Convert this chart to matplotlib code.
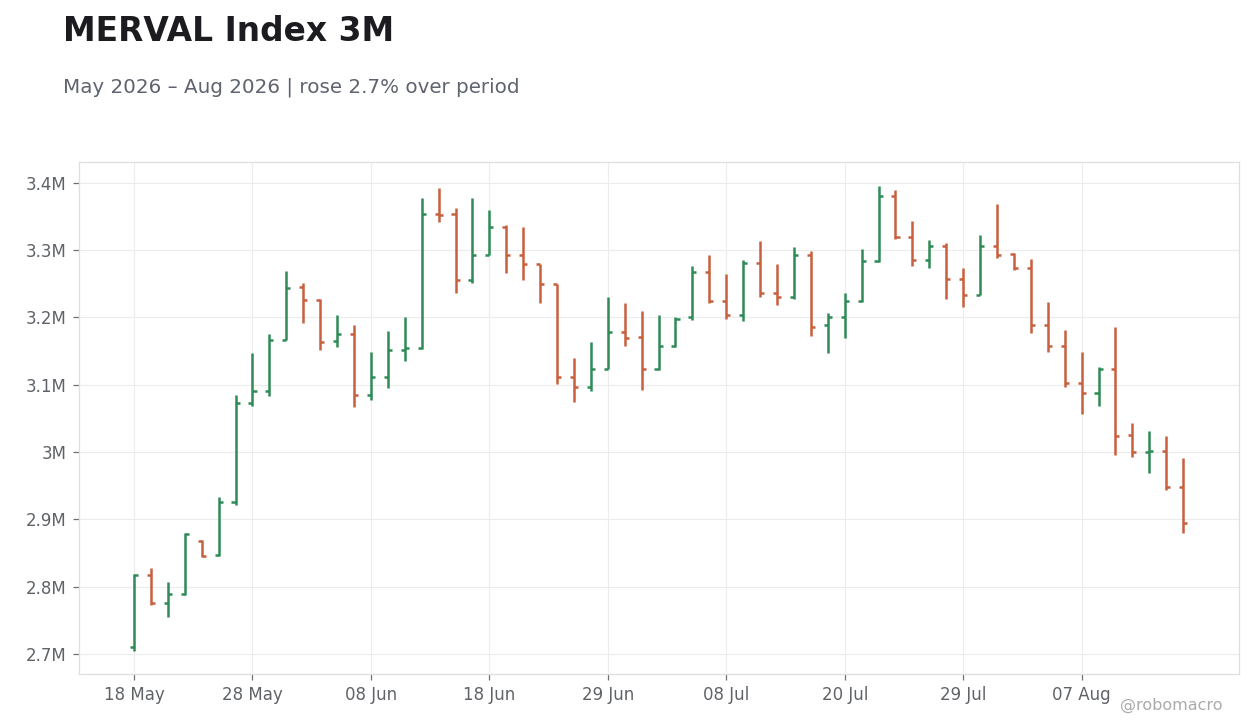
import numpy as np
import pandas as pd

import matplotlib
matplotlib.use("Agg")
import matplotlib.pyplot as plt
from matplotlib.ticker import FuncFormatter

plt.rcParams["font.family"] = ["DejaVu Sans"]


# trading days (Argentine market holidays removed)
HOLIDAYS = ["2026-05-25", "2026-06-15", "2026-07-09", "2026-08-17"]
DATES = pd.bdate_range("2026-05-18", "2026-08-18")
DATES = DATES[~DATES.isin(pd.to_datetime(HOLIDAYS))]

# OHLC values, millions
OPEN = [2.710, 2.817, 2.775, 2.789, 2.868, 2.847, 2.926, 3.073, 3.090, 3.167,
        3.245, 3.226, 3.165, 3.175, 3.085, 3.112, 3.151, 3.154, 3.354, 3.353,
        3.255, 3.292, 3.334, 3.292, 3.279, 3.249, 3.111, 3.096, 3.124, 3.178,
        3.171, 3.123, 3.157, 3.200, 3.268, 3.225, 3.203, 3.281, 3.236, 3.230,
        3.293, 3.189, 3.200, 3.224, 3.284, 3.380, 3.320, 3.285, 3.306, 3.257,
        3.234, 3.306, 3.294, 3.274, 3.189, 3.157, 3.102, 3.087, 3.123, 3.025,
        3.000, 3.002, 2.948]
HIGH = [2.818, 2.828, 2.806, 2.880, 2.869, 2.933, 3.085, 3.147, 3.176, 3.269,
        3.251, 3.227, 3.204, 3.188, 3.148, 3.180, 3.201, 3.377, 3.392, 3.362,
        3.378, 3.359, 3.338, 3.335, 3.280, 3.250, 3.139, 3.164, 3.230, 3.221,
        3.210, 3.203, 3.201, 3.276, 3.292, 3.265, 3.286, 3.313, 3.280, 3.305,
        3.298, 3.207, 3.237, 3.301, 3.396, 3.390, 3.344, 3.315, 3.311, 3.274,
        3.322, 3.368, 3.295, 3.287, 3.223, 3.182, 3.149, 3.127, 3.186, 3.043,
        3.031, 3.023, 2.991]
LOW = [2.704, 2.772, 2.755, 2.788, 2.844, 2.846, 2.921, 3.068, 3.083, 3.167,
       3.191, 3.151, 3.156, 3.067, 3.077, 3.095, 3.135, 3.153, 3.342, 3.236,
       3.251, 3.292, 3.266, 3.255, 3.221, 3.101, 3.074, 3.090, 3.124, 3.157,
       3.092, 3.122, 3.156, 3.196, 3.221, 3.197, 3.194, 3.230, 3.218, 3.228,
       3.172, 3.147, 3.169, 3.223, 3.282, 3.317, 3.276, 3.273, 3.228, 3.215,
       3.233, 3.288, 3.271, 3.177, 3.148, 3.097, 3.057, 3.068, 2.996, 2.993,
       2.968, 2.944, 2.880]
CLOSE = [2.817, 2.775, 2.789, 2.878, 2.846, 2.926, 3.073, 3.090, 3.167, 3.243,
         3.226, 3.164, 3.175, 3.085, 3.112, 3.151, 3.154, 3.353, 3.352, 3.255,
         3.292, 3.334, 3.292, 3.279, 3.249, 3.111, 3.096, 3.124, 3.178, 3.169,
         3.123, 3.157, 3.197, 3.267, 3.225, 3.203, 3.281, 3.236, 3.230, 3.293,
         3.186, 3.200, 3.224, 3.284, 3.380, 3.320, 3.285, 3.306, 3.257, 3.234,
         3.306, 3.292, 3.274, 3.189, 3.157, 3.102, 3.087, 3.123, 3.023, 3.000,
         3.002, 2.948, 2.894]

UP_COLOR = "#2e8b57"
DOWN_COLOR = "#c8603f"
TICK_EVERY = 7


def plot_ohlc():
    o = np.array(OPEN)
    h = np.array(HIGH)
    l = np.array(LOW)
    c = np.array(CLOSE)
    x = np.arange(len(o))
    colors = np.where(c >= o, UP_COLOR, DOWN_COLOR)

    fig = plt.figure(figsize=(12.6, 7.28), dpi=100)
    ax = fig.add_axes([0.0627, 0.0742, 0.9206, 0.7033])

    w = 0.24
    ax.vlines(x, l, h, colors=colors, linewidth=1.8, zorder=3)
    ax.hlines(o, x - w, x, colors=colors, linewidth=1.8, zorder=3)
    ax.hlines(c, x, x + w, colors=colors, linewidth=1.8, zorder=3)

    ax.set_xlim(-3.25, 65.3)
    ax.set_ylim(2.670, 3.431)

    tick_pos = x[::TICK_EVERY]
    ax.set_xticks(tick_pos)
    ax.set_xticklabels([d.strftime("%d %b") for d in DATES[: len(o)][::TICK_EVERY]])
    ax.set_yticks(np.arange(2.7, 3.45, 0.1))
    ax.yaxis.set_major_formatter(FuncFormatter(lambda v, _: f"{round(v, 1):g}M"))

    ax.grid(True, color="#ececec", linewidth=0.8, zorder=0)
    ax.set_axisbelow(True)
    for spine in ax.spines.values():
        spine.set_color("#dedede")
        spine.set_linewidth(0.9)
    ax.tick_params(axis="both", colors="#5f6368", labelsize=12, length=4,
                   width=0.9, pad=5)
    ax.tick_params(axis="both", color="#707070")

    fig.text(0.05, 0.944, "MERVAL Index 3M", fontsize=23.7, fontweight="bold",
             color="#1b1b20", va="baseline")
    fig.text(0.05, 0.873, "May 2026 \u2013 Aug 2026 | rose 2.7% over period",
             fontsize=14.3, color="#5f6370", va="baseline")
    fig.text(0.970, 0.025, "@robomacro", fontsize=11.5, color="#ababab",
             ha="right", va="baseline")

    fig.savefig("out.png", dpi=100)
    plt.close(fig)


plot_ohlc()
